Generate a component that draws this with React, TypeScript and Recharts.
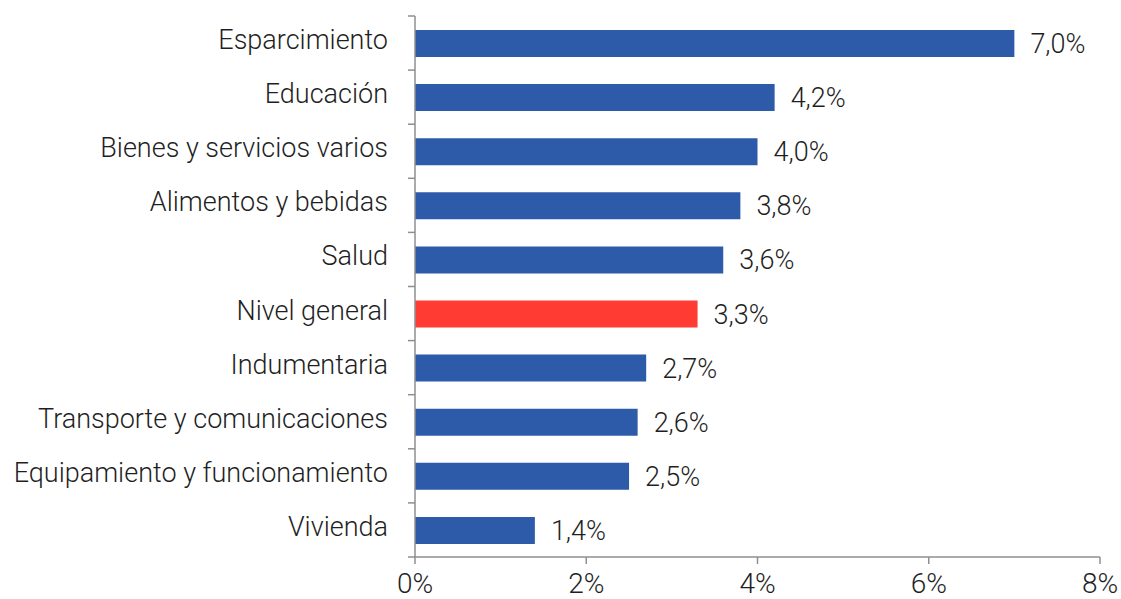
import React from 'react';
import { BarChart, Bar, XAxis, YAxis, Cell, LabelList } from 'recharts';

const categories = [
  'Esparcimiento',
  'Educación',
  'Bienes y servicios varios',
  'Alimentos y bebidas',
  'Salud',
  'Nivel general',
  'Indumentaria',
  'Transporte y comunicaciones',
  'Equipamiento y funcionamiento',
  'Vivienda',
];
const values = [7.0, 4.2, 4.0, 3.8, 3.6, 3.3, 2.7, 2.6, 2.5, 1.4];
const xTicks = [0, 2, 4, 6, 8];
const highlight = 'Nivel general';

const data = categories.map((name, i) => ({ name, value: values[i] }));

const W = 1121;
const H = 599;
const TOP = 16;
const BOTTOM = 42;
const band = (H - TOP - BOTTOM) / categories.length;

const FONT = 'Roboto, "Liberation Sans", sans-serif';
const TEXT = '#1f1f1f';
const AXIS = '#8f8f8f';

const CategoryTick = (props: any) => {
  const { x, y, payload, index } = props;
  const axisX = 415;
  return (
    <g>
      <text x={x} y={y - 3} textAnchor="end" dominantBaseline="central" fontSize={27} fill={TEXT} fontFamily={FONT} fontWeight={300}>
        {payload.value}
      </text>
      {index === 0 && <line x1={axisX - 7} x2={axisX} y1={y - band / 2} y2={y - band / 2} stroke={AXIS} strokeWidth={1.5} />}
      <line x1={axisX - 7} x2={axisX} y1={y + band / 2} y2={y + band / 2} stroke={AXIS} strokeWidth={1.5} />
    </g>
  );
};

export default function App() {
  return (
    <div style={{ width: W, height: H }}>
      <style>{`body{margin:0}`}</style>
      <BarChart
        width={W}
        height={H}
        data={data}
        layout="vertical"
        margin={{ top: TOP, right: 21, bottom: 0, left: 0 }}
      >
        <XAxis
          type="number"
          dataKey="value"
          domain={[0, 8]}
          ticks={xTicks}
          height={BOTTOM}
          tickFormatter={(v) => `${v}%`}
          stroke={AXIS}
          strokeWidth={1.5}
          tickSize={7}
          tickMargin={9}
          tick={{ fontSize: 28, fill: TEXT, fontFamily: FONT, fontWeight: 300 }}
        />
        <YAxis
          type="category"
          dataKey="name"
          width={415}
          stroke={AXIS}
          strokeWidth={1.5}
          tickLine={false}
          tickSize={7}
          tickMargin={20}
          interval={0}
          tick={<CategoryTick />}
        />
        <Bar dataKey="value" barSize={27} fill="#2E5BA9" isAnimationActive={false}>
          {data.map((d) => (
            <Cell key={d.name} fill={d.name === highlight ? '#FF3B33' : '#2E5BA9'} />
          ))}
          <LabelList
            dataKey="value"
            position="right"
            offset={16}
            formatter={(v: any) => `${Number(v).toFixed(1).replace('.', ',')}%`}
            style={{ fontSize: 27, fill: TEXT, fontFamily: FONT, fontWeight: 300 }}
          />
        </Bar>
      </BarChart>
    </div>
  );
}
